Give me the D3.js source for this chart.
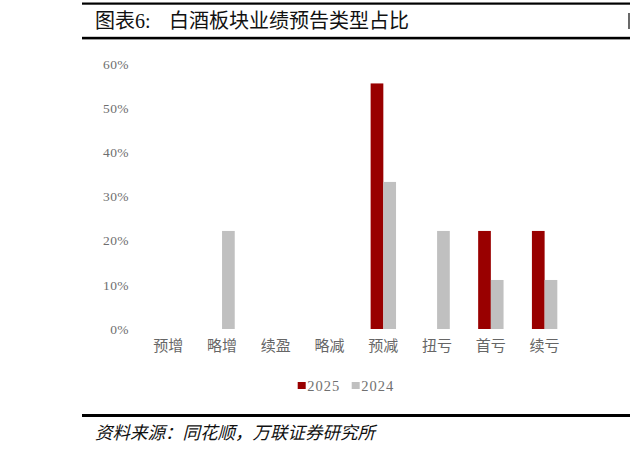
<!DOCTYPE html>
<meta charset="utf-8">
<script src="https://d3js.org/d3.v7.min.js"></script>
<style>
  body { margin: 0; background: #fff; }
  svg text { font-family: "Liberation Serif", "Noto Sans CJK SC", serif; }
</style>
<div id="chart"></div>
<script>

// data (share of companies per forecast type)
const categories = ["预增", "略增", "续盈", "略减", "预减", "扭亏", "首亏", "续亏"];
const years = ["2025", "2024"];
const values2025 = [0, 0, 0, 0, 0.556, 0, 0.222, 0.222];
const values2024 = [0, 0.222, 0, 0, 0.333, 0.222, 0.111, 0.111];
const yTicks = [0, 0.1, 0.2, 0.3, 0.4, 0.5, 0.6];
const colors = {"2025": "#990000", "2024": "#c0c0c0"};

const W = 630, H = 452;

const svg = d3.select("#chart")
  .append("svg")
    .attr("width", W)
    .attr("height", H);

// ---- header / footer rules ----
svg.append("rect").attr("x", 82).attr("y", 2.5).attr("width", W - 82).attr("height", 2.2).attr("fill", "#000");
svg.append("rect").attr("x", 82).attr("y", 36.8).attr("width", W - 82).attr("height", 2.6).attr("fill", "#000");
svg.append("rect").attr("x", 82).attr("y", 414).attr("width", W - 82).attr("height", 3).attr("fill", "#000");

svg.append("text")
  .attr("x", 95).attr("y", 28)
  .style("font-size", "20px")
  .attr("fill", "#111")
  .text("图表6:");
svg.append("text")
  .attr("x", 169).attr("y", 28)
  .style("font-size", "20px")
  .attr("fill", "#111")
  .text("白酒板块业绩预告类型占比");
// edge of a cut-off glyph at the right border
svg.append("line")
  .attr("x1", 629).attr("x2", 629)
  .attr("y1", 13).attr("y2", 29)
  .attr("stroke", "#444")
  .attr("stroke-width", 1.6);

svg.append("text")
  .attr("x", 95).attr("y", 439)
  .style("font-size", "17.5px")
  .style("font-style", "italic")
  .attr("fill", "#111")
  .text("资料来源：同花顺，万联证券研究所");

// ---- scales ----
const y = d3.scaleLinear()
  .domain([0, 0.6])
  .range([329, 64]);

const x0 = d3.scaleBand()
  .domain(categories)
  .range([141.4, 571.5]);

const barW = 12.7;
const x1 = d3.scaleBand()
  .domain(years)
  .range([x0.bandwidth() / 2 - barW, x0.bandwidth() / 2 + barW]);

// ---- y axis labels (no axis line) ----
const yAxis = svg.append("g")
  .attr("transform", "translate(129,0)")
  .call(d3.axisLeft(y).tickValues(yTicks).tickSize(0).tickPadding(0)
    .tickFormat(d => Math.round(d * 100) + "%"));
yAxis.select(".domain").remove();
yAxis.selectAll("text")
  .style("font-size", "13.5px")
  .style("letter-spacing", "0.4px")
  .attr("fill", "#6e6e6e");

// ---- x axis labels ----
const xAxis = svg.append("g")
  .attr("transform", "translate(0,337)")
  .call(d3.axisBottom(x0).tickSize(0).tickPadding(0));
xAxis.select(".domain").remove();
xAxis.selectAll("text")
  .attr("dy", "0.9em")
  .style("font-size", "15px")
  .attr("fill", "#666");

// ---- bars ----
const rows = categories.map((c, i) => ({cat: c, vals: [
  {year: "2025", v: values2025[i]},
  {year: "2024", v: values2024[i]}
]}));

svg.append("g")
  .selectAll("g")
  .data(rows)
  .join("g")
    .attr("transform", d => `translate(${x0(d.cat)},0)`)
  .selectAll("rect")
  .data(d => d.vals.filter(e => e.v > 0))
  .join("rect")
    .attr("x", d => x1(d.year))
    .attr("width", x1.bandwidth())
    .attr("y", d => y(d.v))
    .attr("height", d => y(0) - y(d.v))
    .attr("fill", d => colors[d.year]);

// ---- legend ----
const legendX = [297.7, 351.7];
const legend = svg.append("g")
  .selectAll("g")
  .data(years)
  .join("g")
    .attr("transform", (d, i) => `translate(${legendX[i]},382)`);
legend.append("rect")
  .attr("width", 8).attr("height", 7)
  .attr("fill", d => colors[d]);
legend.append("text")
  .attr("x", 9.5).attr("y", 8.7)
  .style("font-size", "14.5px")
  .style("letter-spacing", "1px")
  .attr("fill", "#707070")
  .text(d => d);

</script>
